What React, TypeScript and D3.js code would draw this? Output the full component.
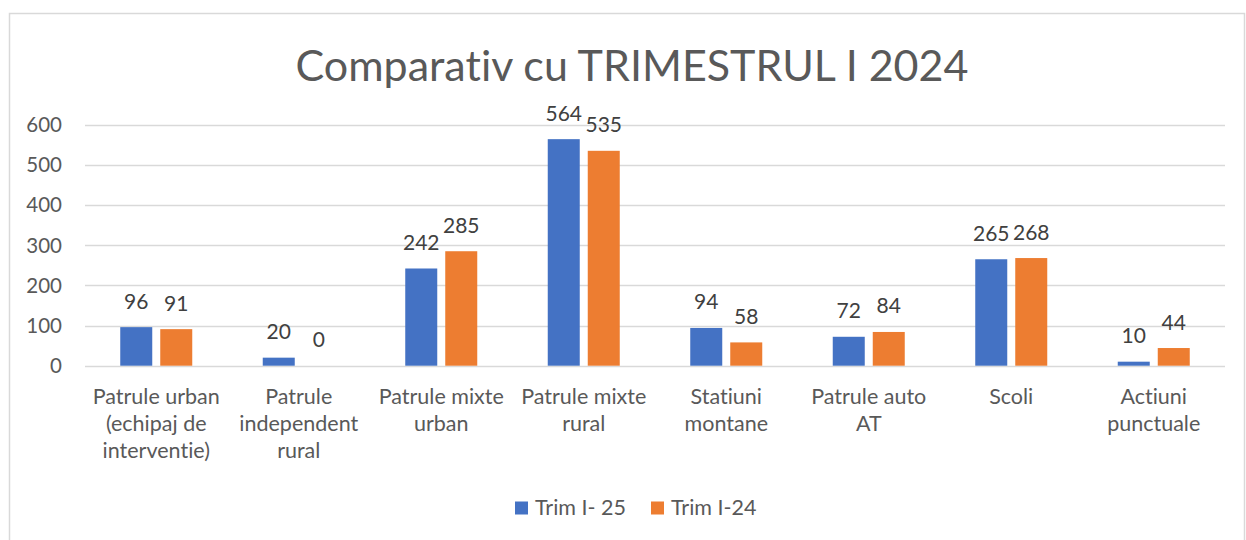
import React, { useEffect, useRef } from "react";
import * as d3 from "d3";

// categories, each split in the lines shown under the axis
const categories = [
  "Patrule urban (echipaj de interventie)",
  "Patrule independent rural",
  "Patrule mixte urban",
  "Patrule mixte rural",
  "Statiuni montane",
  "Patrule auto AT",
  "Scoli",
  "Actiuni punctuale",
];
const categoryLines = [
  ["Patrule urban", "(echipaj de", "interventie)"],
  ["Patrule", "independent", "rural"],
  ["Patrule mixte", "urban"],
  ["Patrule mixte", "rural"],
  ["Statiuni", "montane"],
  ["Patrule auto", "AT"],
  ["Scoli"],
  ["Actiuni", "punctuale"],
];

const seriesNames = ["Trim I- 25", "Trim I-24"];
const trim25 = [96, 20, 242, 564, 94, 72, 265, 10];
const trim24 = [91, 0, 285, 535, 58, 84, 268, 44];
const yTicks = [0, 100, 200, 300, 400, 500, 600];

const colors = ["#4472C4", "#ED7D31"];
const textColor = "#595959";
const gridColor = "#D9D9D9";
const font = "Lato, 'Open Sans', sans-serif";

export default function App() {
  const ref = useRef<SVGSVGElement>(null);

  useEffect(() => {
    const svg = d3.select(ref.current);
    svg.selectAll("*").remove();
    svg.style("font-variant-ligatures", "none");

    const width = 1246;
    const height = 540;

    // chart border
    svg.append("rect")
      .attr("x", 9.5)
      .attr("y", 13.5)
      .attr("width", width - 11)
      .attr("height", height)
      .attr("fill", "#fff")
      .attr("stroke", gridColor)
      .attr("stroke-width", 1.5);

    svg.append("text")
      .attr("x", 632)
      .attr("y", 81)
      .attr("text-anchor", "middle")
      .attr("font-family", font)
      .attr("font-size", 43)
      .attr("fill", textColor)
      .text("Comparativ cu TRIMESTRUL I 2024");

    const x = d3.scaleBand<string>()
      .domain(categories)
      .range([85, 1225])
      .padding(0);

    const xInner = d3.scaleBand<string>()
      .domain(seriesNames)
      .range([0, 72])
      .paddingInner(0.2);

    const y = d3.scaleLinear()
      .domain([0, 600])
      .range([365.7, 124.7]);

    // gridlines + y labels
    const grid = svg.append("g");
    yTicks.forEach(t => {
      grid.append("line")
        .attr("x1", 85)
        .attr("x2", 1225)
        .attr("y1", Math.round(y(t)) + 0.5)
        .attr("y2", Math.round(y(t)) + 0.5)
        .attr("stroke", gridColor)
        .attr("stroke-width", 1.5);
      grid.append("text")
        .attr("x", 62)
        .attr("y", y(t))
        .attr("dy", "0.36em")
        .attr("text-anchor", "end")
        .attr("font-family", font)
        .attr("font-size", 20.5)
        .attr("fill", textColor)
        .text(t);
    });

    const seriesValues = [trim25, trim24];
    const offset = (x.bandwidth() - 72) / 2;

    seriesNames.forEach((name, si) => {
      const g = svg.append("g");
      const vals = seriesValues[si];
      g.selectAll("rect")
        .data(categories)
        .join("rect")
        .attr("x", c => x(c)! + offset + xInner(name)!)
        .attr("y", (c, i) => y(vals[i]))
        .attr("width", xInner.bandwidth())
        .attr("height", (c, i) => y(0) - y(vals[i]))
        .attr("fill", colors[si]);

      g.selectAll("text")
        .data(categories)
        .join("text")
        .attr("x", c => x(c)! + offset + xInner(name)! + xInner.bandwidth() / 2)
        .attr("y", (c, i) => y(vals[i]) - 18.5)
        .attr("text-anchor", "middle")
        .attr("font-family", font)
        .attr("font-size", 21)
        .attr("fill", "#404040")
        .text((c, i) => vals[i]);
    });

    // category labels
    const xl = svg.append("g");
    categories.forEach((c, i) => {
      const t = xl.append("text")
        .attr("x", x(c)! + x.bandwidth() / 2)
        .attr("y", 404)
        .attr("text-anchor", "middle")
        .attr("font-family", font)
        .attr("font-size", 21.5)
        .attr("fill", textColor);
      categoryLines[i].forEach((line, li) => {
        t.append("tspan")
          .attr("x", x(c)! + x.bandwidth() / 2)
          .attr("y", 404 + li * 27)
          .text(line);
      });
    });

    // legend
    const legendX = [515, 651];
    seriesNames.forEach((name, si) => {
      svg.append("rect")
        .attr("x", legendX[si])
        .attr("y", 501.5)
        .attr("width", 13)
        .attr("height", 13)
        .attr("fill", colors[si]);
      svg.append("text")
        .attr("x", legendX[si] + 20)
        .attr("y", 515)
        .attr("font-family", font)
        .attr("font-size", 21.5)
        .attr("fill", textColor)
        .text(name);
    });
  }, []);

  return (
    <svg
      ref={ref}
      width={1246}
      height={540}
      style={{ position: "absolute", left: 0, top: 0, background: "#fff" }}
    />
  );
}
